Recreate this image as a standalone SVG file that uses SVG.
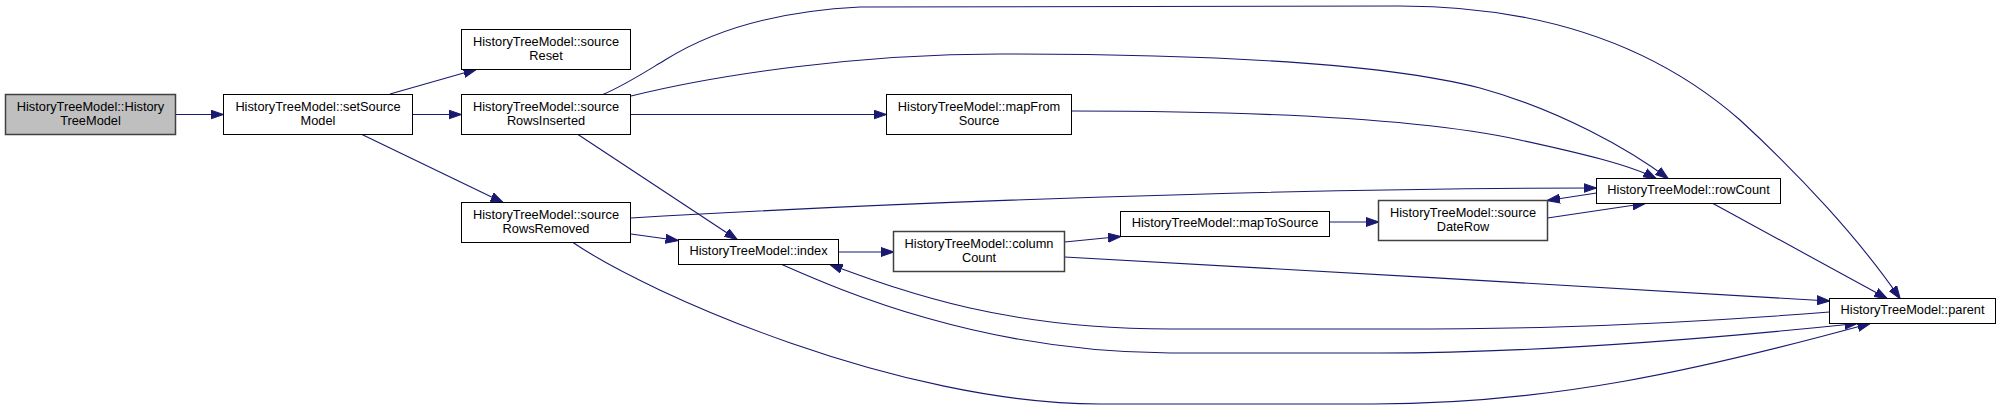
<svg xmlns="http://www.w3.org/2000/svg" width="2001" height="409" viewBox="0 0 2001 409">
<style>
.node rect{fill:#ffffff;stroke:#000000;stroke-width:1}
.node.root rect{fill:#bfbfbf;stroke:#404040;stroke-width:1.5}
.node.dark rect{stroke:#404040;stroke-width:1.5}
.node text{font-family:"Liberation Sans",Arial,Helvetica,sans-serif;font-size:12.8px;fill:#000000;text-anchor:middle}
.edges path{fill:none;stroke:#191970;stroke-width:1.1;marker-end:url(#arr)}
</style>
<defs>
<marker id="arr" viewBox="0 0 13 10" markerWidth="13" markerHeight="10" refX="12.5" refY="5" orient="auto" markerUnits="userSpaceOnUse">
<path d="M0,0.5 L13,5 L0,9.5 z" fill="#191970" stroke="#191970" stroke-width="1"/>
</marker>
</defs>
<rect width="2001" height="409" fill="#ffffff"/>
<g class="edges" id="edges">
<path d="M176,114.5 L223,114.5"/>
<path d="M390,94 L476,69.5"/>
<path d="M413,114.5 L461,114.5"/>
<path d="M362,134.5 L503,202.5"/>
<path d="M603,94.5 C625,85 645,72 665,60 C700,38 760,12 860,7 L1400,6 C1550,6 1660,50 1740,120 C1800,175 1860,240 1900,298.5"/>
<path d="M631,96 C720,74 860,54 1000,54 C1200,54 1380,62 1480,88 C1560,110 1630,150 1668,178.5"/>
<path d="M631,114.5 L886,114.5"/>
<path d="M578,134.5 L737,239.5"/>
<path d="M631,218 C900,202 1300,188 1596,188"/>
<path d="M631,234 L678,240.5"/>
<path d="M573,242.5 C650,295 900,404 1100,404 L1373,404 C1550,404 1700,370 1870,323.5"/>
<path d="M838.5,252 L893.5,252"/>
<path d="M782,264.5 C840,290 980,352 1170,353 L1380,353 C1500,353 1650,345 1857,323.5"/>
<path d="M1829.5,312 C1600,330 1450,329 1380,329 L1170,329 C1000,329 900,290 830,264.5"/>
<path d="M1064.5,257 C1300,270 1600,287 1829.5,301"/>
<path d="M1064.5,242 L1120.5,236.5"/>
<path d="M1329.5,222 L1378.5,222"/>
<path d="M1547.5,218 L1645,203.5"/>
<path d="M1596.5,193 L1547.5,200.5"/>
<path d="M1713,203.5 L1887,298.5"/>
<path d="M1071.5,111 C1250,111 1420,118 1520,140 C1580,153 1630,165 1656,178.5"/>
</g>
<g class="node root" id="n_HistoryTreeModel"><rect x="5.5" y="94.5" width="170" height="40"/><text x="90.5" y="111">HistoryTreeModel::History</text><text x="90.5" y="125">TreeModel</text></g>
<g class="node" id="n_setSourceModel"><rect x="223.5" y="94.5" width="189" height="40"/><text x="318" y="111">HistoryTreeModel::setSource</text><text x="318" y="125">Model</text></g>
<g class="node" id="n_sourceReset"><rect x="461.5" y="29.5" width="169" height="40"/><text x="546" y="46">HistoryTreeModel::source</text><text x="546" y="60">Reset</text></g>
<g class="node" id="n_sourceRowsInserted"><rect x="461.5" y="94.5" width="169" height="40"/><text x="546" y="111">HistoryTreeModel::source</text><text x="546" y="125">RowsInserted</text></g>
<g class="node" id="n_sourceRowsRemoved"><rect x="461.5" y="202.5" width="169" height="40"/><text x="546" y="219">HistoryTreeModel::source</text><text x="546" y="233">RowsRemoved</text></g>
<g class="node" id="n_index"><rect x="678.5" y="239.5" width="160" height="25"/><text x="758.5" y="254.5">HistoryTreeModel::index</text></g>
<g class="node" id="n_mapFromSource"><rect x="886.5" y="94.5" width="185" height="40"/><text x="979" y="111">HistoryTreeModel::mapFrom</text><text x="979" y="125">Source</text></g>
<g class="node dark" id="n_columnCount"><rect x="893.5" y="231.5" width="171" height="40"/><text x="979" y="248">HistoryTreeModel::column</text><text x="979" y="262">Count</text></g>
<g class="node" id="n_mapToSource"><rect x="1120.5" y="211.5" width="209" height="25"/><text x="1225" y="226.5">HistoryTreeModel::mapToSource</text></g>
<g class="node dark" id="n_sourceDateRow"><rect x="1378.5" y="200.5" width="169" height="40"/><text x="1463" y="217">HistoryTreeModel::source</text><text x="1463" y="231">DateRow</text></g>
<g class="node" id="n_rowCount"><rect x="1596.5" y="178.5" width="184" height="25"/><text x="1688.5" y="193.5">HistoryTreeModel::rowCount</text></g>
<g class="node" id="n_parent"><rect x="1829.5" y="298.5" width="166" height="25"/><text x="1912.5" y="313.5">HistoryTreeModel::parent</text></g>
</svg>
